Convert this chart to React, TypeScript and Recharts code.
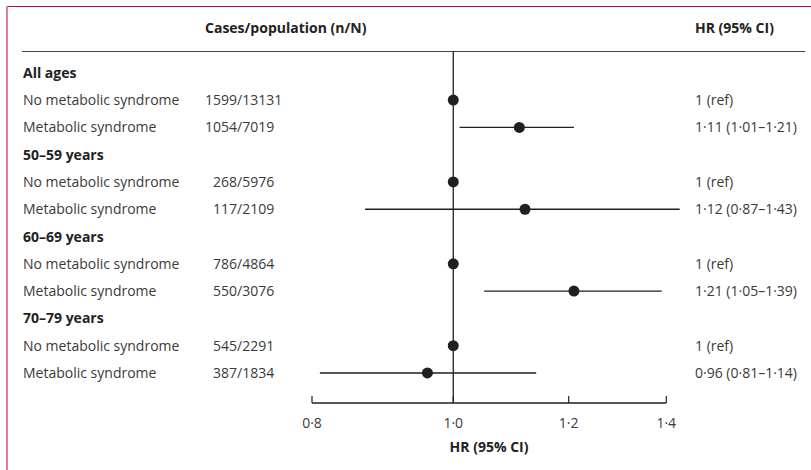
import { ScatterChart, Scatter, XAxis, YAxis, ErrorBar, ReferenceLine } from 'recharts';

// row labels, top to bottom (group headers are bold)
const rowLabels = [
  'All ages', 'No metabolic syndrome', 'Metabolic syndrome',
  '50–59 years', 'No metabolic syndrome', 'Metabolic syndrome',
  '60–69 years', 'No metabolic syndrome', 'Metabolic syndrome',
  '70–79 years', 'No metabolic syndrome', 'Metabolic syndrome',
];
const groupRows = [0, 3, 6, 9];
const cases = ['', '1599', '1054', '', '268', '117', '', '786', '550', '', '545', '387'];
const population = ['', '13131', '7019', '', '5976', '2109', '', '4864', '3076', '', '2291', '1834'];
const hrText = ['', '1 (ref)', '1·11 (1·01–1·21)', '', '1 (ref)', '1·12 (0·87–1·43)', '', '1 (ref)', '1·21 (1·05–1·39)', '', '1 (ref)', '0·96 (0·81–1·14)'];

// estimates: rows with an HR and CI
const refRows = [1, 4, 7, 10];
const estRows = [2, 5, 8, 11];
const hr = [1.11, 1.12, 1.21, 0.96];
const ciLow = [1.01, 0.87, 1.05, 0.81];
const ciHigh = [1.21, 1.43, 1.39, 1.14];
const xTicks = [0.8, 1.0, 1.2, 1.4];

const refData = refRows.map((row) => ({ x: 1, y: row }));
const estData = estRows.map((row, i) => ({ x: hr[i], y: row, err: [hr[i] - ciLow[i], ciHigh[i] - hr[i]] }));

const FONT = '"Open Sans", "Noto Sans", sans-serif';
const INK = '#231f20';

const dot = (p: any) => <circle cx={p.cx} cy={p.cy} r={5.5} fill={INK} />;

function RowTick({ y, payload }: any) {
  const i = payload.value;
  const bold = groupRows.includes(i);
  return (
    <g fontFamily={FONT} fontSize={14} fill="#3a3a3a">
      <text x={23} y={y} dy={5} fontWeight={bold ? 700 : 400} fill={bold ? '#222' : '#3a3a3a'}>{rowLabels[i]}</text>
      {cases[i] && <text x={237} y={y} dy={5} textAnchor="end">{cases[i]}</text>}
      {cases[i] && <text x={237} y={y} dy={5}>/{population[i]}</text>}
      {hrText[i] && <text x={695} y={y} dy={5}>{hrText[i]}</text>}
    </g>
  );
}

function HrTick({ x, y, payload }: any) {
  return (
    <g>
      <line x1={x} x2={x} y1={y - 7} y2={y} stroke={INK} strokeWidth={1.2} />
      <text x={x} y={y} dy={25} textAnchor="middle" fontFamily={FONT} fontSize={14} fill="#3a3a3a">
        {payload.value.toFixed(1).replace('.', '·')}
      </text>
    </g>
  );
}

export default function App() {
  return (
    <div style={{ position: 'absolute', left: 0, top: 0, width: 811, height: 470, background: '#fff', fontFamily: FONT }}>
      <div style={{ position: 'absolute', left: 6, top: 6, width: 805, height: 1, background: '#c8003f' }} />
      <div style={{ position: 'absolute', left: 6, top: 6, width: 2, height: 464, background: '#dd7d9d' }} />
      <div style={{ position: 'absolute', left: 205, top: 18, fontSize: 14, fontWeight: 700, color: '#222' }}>Cases/population (n/N)</div>
      <div style={{ position: 'absolute', left: 695, top: 18, fontSize: 14, fontWeight: 700, color: '#222' }}>HR (95% CI)</div>
      <div style={{ position: 'absolute', left: 22, top: 51, width: 783, height: 1.3, background: '#444' }} />
      <div style={{ position: 'absolute', left: 312, width: 354, top: 437, textAlign: 'center', fontSize: 14, fontWeight: 700, color: '#222' }}>HR (95% CI)</div>
      <ScatterChart width={811} height={470} margin={{ top: 51, right: 131.3, bottom: 0, left: 0 }} style={{ position: 'absolute', left: 0, top: 0 }}>
        <XAxis
          type="number"
          dataKey="x"
          scale="log"
          domain={[0.8, 1.43]}
          ticks={xTicks}
          axisLine={false}
          tickLine={false}
          tickSize={0}
          tickMargin={0}
          height={67}
          tick={<HrTick />}
          interval={0}
        />
        <YAxis
          type="number"
          dataKey="y"
          domain={[-0.8, 12.1]}
          reversed
          ticks={rowLabels.map((_, i) => i)}
          interval={0}
          width={312}
          axisLine={false}
          tickLine={false}
          tick={<RowTick />}
        />
        <ReferenceLine x={1} stroke={INK} strokeWidth={1.3} />
        <ReferenceLine segment={[{ x: 0.8, y: 12.1 }, { x: 1.4, y: 12.1 }]} stroke={INK} strokeWidth={1.3} />
        <Scatter data={estData} shape={dot} isAnimationActive={false}>
          <ErrorBar dataKey="err" direction="x" width={0} stroke={INK} strokeWidth={1.3} />
        </Scatter>
        <Scatter data={refData} shape={dot} isAnimationActive={false} />
      </ScatterChart>
    </div>
  );
}
